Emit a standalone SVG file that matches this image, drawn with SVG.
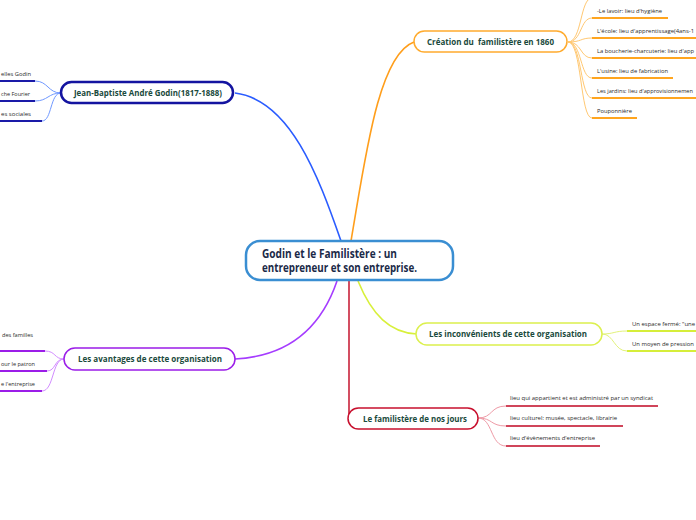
<svg xmlns="http://www.w3.org/2000/svg" width="696" height="520" viewBox="0 0 696 520">
<style>
text{font-family:"Open Sans","Noto Sans","DejaVu Sans",sans-serif}
.main{font-size:11.5px;font-weight:bold;fill:#1b2a48}
.lbl{font-size:8.6px;font-weight:bold;fill:#1a4a3c}
.sm{font-size:6px;fill:#2a2a2a}
.node{fill:#fff}
.c{fill:none}
</style>
<rect width="696" height="520" fill="#fff"/>
<g id="connectors" class="c" fill="none">
  <path d="M341,241 C318,175 290,100 235,93" stroke="#2a5cff" stroke-width="1.6"/>
  <path d="M351,241 C365,160 378,55 414,42" stroke="#ff9e1b" stroke-width="1.6"/>
  <path d="M337,281 C322,325 292,356 235,359" stroke="#a53cff" stroke-width="1.6"/>
  <path d="M358,281 C372,315 390,333 417,334" stroke="#d8f03a" stroke-width="1.6"/>
  <path d="M349,281 L349,418" stroke="#c8223a" stroke-width="1.6"/>
  <g stroke="#6f98ff" stroke-width="1">
    <path d="M61,93 C48,93 48,81 35,81"/>
    <path d="M61,93 C48,93 48,101 35,101"/>
    <path d="M61,93 C50,93 52,121 42,121"/>
  </g>
  <g stroke="#1a1aa8" stroke-width="2">
    <path d="M0,81 H35"/><path d="M0,101 H35"/><path d="M0,121 H42"/>
  </g>
  <g stroke="#ffc872" stroke-width="1">
    <path d="M568,42 C582,42 580,-2 592,-2"/>
    <path d="M568,42 C582,42 580,18 592,18"/>
    <path d="M568,42 C582,42 580,38 592,38"/>
    <path d="M568,42 C582,42 580,58 592,58"/>
    <path d="M568,42 C582,42 580,78 592,78"/>
    <path d="M568,42 C582,42 580,98 592,98"/>
    <path d="M568,42 C582,42 580,118 592,118"/>
  </g>
  <g stroke="#ffa51f" stroke-width="2">
    <path d="M592,18 H668"/><path d="M592,38 H696"/><path d="M592,58 H696"/>
    <path d="M592,78 H673"/><path d="M592,98 H696"/><path d="M592,118 H637"/>
  </g>
  <g stroke="#d28cff" stroke-width="1">
    <path d="M64,359 C54,359 56,351 45,351"/>
    <path d="M64,359 C54,359 56,371 47,371"/>
    <path d="M64,359 C52,359 54,391 42,391"/>
  </g>
  <g stroke="#9b1de8" stroke-width="2">
    <path d="M0,351 H45"/><path d="M0,371 H47"/><path d="M0,391 H42"/>
  </g>
  <g stroke="#e2f27a" stroke-width="1">
    <path d="M602,334 C614,334 614,331 627,331"/>
    <path d="M602,334 C614,334 614,351 627,351"/>
  </g>
  <g stroke="#d6ee3a" stroke-width="2">
    <path d="M627,331 H696"/><path d="M627,351 H696"/>
  </g>
  <g stroke="#ee9aa6" stroke-width="1">
    <path d="M478,418 C493,418 490,406 506,406"/>
    <path d="M478,418 C493,418 490,426 506,426"/>
    <path d="M478,418 C493,418 490,446 506,446"/>
  </g>
  <g stroke="#d0455a" stroke-width="2">
    <path d="M506,406 H658"/><path d="M506,426 H623"/><path d="M506,446 H600"/>
  </g>
</g>
<g id="central">
  <rect class="node" x="246" y="241" width="207" height="39" rx="14" stroke="#3a8ed2" stroke-width="2.5"/>
  <text class="main" x="262" y="258" textLength="135" lengthAdjust="spacingAndGlyphs">Godin et le Familistère : un</text>
  <text class="main" x="262" y="272" textLength="155" lengthAdjust="spacingAndGlyphs">entrepreneur et son entreprise.</text>
</g>
<g id="godin">
  <rect class="node" x="61" y="82" width="172" height="21" rx="10.5" stroke="#1414a0" stroke-width="2.5"/>
  <text class="lbl" x="74" y="96" textLength="148" lengthAdjust="spacingAndGlyphs">Jean-Baptiste André Godin(1817-1888)</text>
</g>
<g id="godin-children">
  <text class="sm" x="1" y="76" textLength="30" lengthAdjust="spacingAndGlyphs">elles Godin</text>
  <text class="sm" x="1" y="96" textLength="29" lengthAdjust="spacingAndGlyphs">che Fourier</text>
  <text class="sm" x="1" y="116" textLength="30" lengthAdjust="spacingAndGlyphs">es sociales</text>
</g>
<g id="creation">
  <rect class="node" x="414" y="31" width="153" height="21" rx="10.5" stroke="#ffab2e" stroke-width="1.5"/>
  <text class="lbl" x="427" y="45" textLength="127" lengthAdjust="spacingAndGlyphs" xml:space="preserve">Création du  familistère en 1860</text>
</g>
<g id="creation-children">
  <text class="sm" x="597" y="13" textLength="65" lengthAdjust="spacingAndGlyphs">-Le lavoir: lieu d'hygiène</text>
  <text class="sm" x="597" y="33" textLength="97" lengthAdjust="spacingAndGlyphs">L'école: lieu d'apprentissage(4ans-1</text>
  <text class="sm" x="597" y="53" textLength="97" lengthAdjust="spacingAndGlyphs">La boucherie-charcuterie: lieu d'app</text>
  <text class="sm" x="597" y="73" textLength="71" lengthAdjust="spacingAndGlyphs">L'usine: lieu de fabrication</text>
  <text class="sm" x="597" y="93" textLength="96" lengthAdjust="spacingAndGlyphs">Les jardins: lieu d'approvisionnemen</text>
  <text class="sm" x="597" y="113" textLength="35" lengthAdjust="spacingAndGlyphs">Pouponnière</text>
</g>
<g id="avantages">
  <rect class="node" x="64" y="348" width="171" height="22" rx="11" stroke="#9b1de8" stroke-width="1.5"/>
  <text class="lbl" x="78" y="362" textLength="144" lengthAdjust="spacingAndGlyphs">Les avantages de cette organisation</text>
</g>
<g id="avantages-children">
  <text class="sm" x="2" y="337" textLength="31" lengthAdjust="spacingAndGlyphs">des familles</text>
  <text class="sm" x="1" y="366" textLength="34" lengthAdjust="spacingAndGlyphs">our le patron</text>
  <text class="sm" x="1" y="386" textLength="34" lengthAdjust="spacingAndGlyphs">e l'entreprise</text>
</g>
<g id="inconvenients">
  <rect class="node" x="416" y="323" width="186" height="22" rx="11" stroke="#dcf04e" stroke-width="1.5"/>
  <text class="lbl" x="429" y="337" textLength="158" lengthAdjust="spacingAndGlyphs">Les inconvénients de cette organisation</text>
</g>
<g id="inconvenients-children">
  <text class="sm" x="632" y="326" textLength="63" lengthAdjust="spacingAndGlyphs">Un espace fermé: "une</text>
  <text class="sm" x="632" y="346" textLength="62" lengthAdjust="spacingAndGlyphs">Un moyen de pression</text>
</g>
<g id="familistere">
  <rect class="node" x="348" y="408" width="130" height="21" rx="10.5" stroke="#c8102e" stroke-width="1.5"/>
  <text class="lbl" x="363" y="422" textLength="104" lengthAdjust="spacingAndGlyphs">Le familistère de nos jours</text>
</g>
<g id="familistere-children">
  <text class="sm" x="510" y="400" textLength="143" lengthAdjust="spacingAndGlyphs">lieu qui appartient et est administré par un syndicat</text>
  <text class="sm" x="510" y="420" textLength="107" lengthAdjust="spacingAndGlyphs">lieu culturel: musée, spectacle, librairie</text>
  <text class="sm" x="510" y="440" textLength="85" lengthAdjust="spacingAndGlyphs">lieu d'évènements d'entreprise</text>
</g>
</svg>
